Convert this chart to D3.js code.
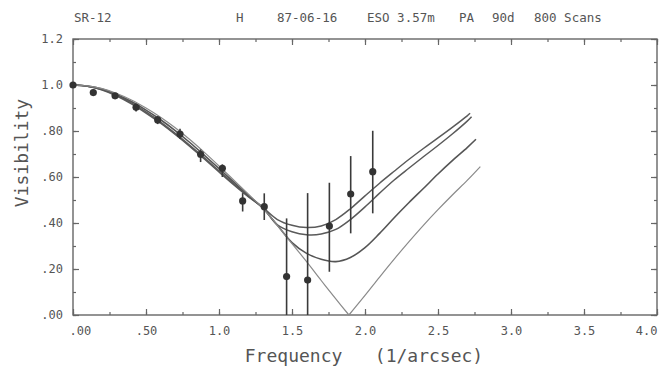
<!DOCTYPE html>
<html lang="en">
<head>
<meta charset="UTF-8">
<title>SR-12 visibility</title>
<script src="https://d3js.org/d3.v7.min.js"></script>
<style>
  body { margin: 0; background: #fff; }
  svg text { font-family: "DejaVu Sans Mono", "Liberation Mono", monospace; fill: #555; }
</style>
</head>
<body>
<div id="chart"></div>
<script>
// header pieces of the plot
const headerItems = ["SR-12", "H", "87-06-16", "ESO 3.57m", "PA", "90d", "800 Scans"];
const headerX = [74, 236, 277, 367, 459, 492, 534];

// tick labels
const xTicks = [0, 0.5, 1.0, 1.5, 2.0, 2.5, 3.0, 3.5, 4.0];
const xTickLabels = [".00", ".50", "1.0", "1.5", "2.0", "2.5", "3.0", "3.5", "4.0"];
const yTicks = [0, 0.2, 0.4, 0.6, 0.8, 1.0, 1.2];
const yTickLabels = [".00", ".20", ".40", ".60", ".80", "1.0", "1.2"];

// measured visibilities
const obsFreq = [0.0, 0.139, 0.288, 0.432, 0.58, 0.733, 0.874, 1.023, 1.162, 1.31, 1.463, 1.607, 1.756, 1.902, 2.053];
const obsVis  = [1.0, 0.967, 0.953, 0.903, 0.848, 0.787, 0.699, 0.638, 0.496, 0.471, 0.167, 0.152, 0.387, 0.526, 0.623];
const obsLow  = [0.99, 0.953, 0.944, 0.885, 0.83, 0.765, 0.665, 0.60, 0.45, 0.413, 0.0, 0.0, 0.188, 0.355, 0.442];
const obsHigh = [1.01, 0.981, 0.962, 0.92, 0.865, 0.81, 0.72, 0.655, 0.53, 0.529, 0.42, 0.53, 0.575, 0.691, 0.801];

// model curves [frequency, visibility]
const modelA = [[0,1.0],[0.1,0.994],[0.2,0.978],[0.3,0.952],[0.4,0.918],[0.5,0.878],[0.6,0.834],[0.7,0.785],[0.8,0.733],[0.9,0.678],[1.0,0.622],[1.1,0.567],[1.2,0.515],[1.3,0.468],[1.4,0.415],[1.5,0.39],[1.6,0.38],[1.7,0.387],[1.8,0.415],[1.9,0.462],[2.0,0.518],[2.1,0.573],[2.2,0.625],[2.3,0.676],[2.4,0.724],[2.5,0.77],[2.6,0.817],[2.7,0.866],[2.72,0.877]];
const modelB = [[0,1.0],[0.1,0.995],[0.2,0.98],[0.3,0.955],[0.4,0.922],[0.5,0.883],[0.6,0.839],[0.7,0.79],[0.8,0.738],[0.9,0.683],[1.0,0.627],[1.1,0.571],[1.2,0.517],[1.3,0.467],[1.4,0.392],[1.5,0.362],[1.6,0.349],[1.7,0.352],[1.8,0.372],[1.9,0.415],[2.0,0.47],[2.1,0.53],[2.2,0.587],[2.3,0.638],[2.4,0.688],[2.5,0.737],[2.6,0.788],[2.7,0.843],[2.73,0.862]];
const modelC = [[0,1.0],[0.1,0.995],[0.2,0.982],[0.3,0.959],[0.4,0.928],[0.5,0.891],[0.6,0.849],[0.7,0.802],[0.8,0.75],[0.9,0.694],[1.0,0.637],[1.1,0.579],[1.2,0.521],[1.3,0.465],[1.4,0.39],[1.5,0.315],[1.6,0.268],[1.7,0.242],[1.8,0.232],[1.9,0.25],[2.0,0.293],[2.1,0.355],[2.2,0.423],[2.3,0.488],[2.4,0.55],[2.5,0.613],[2.6,0.672],[2.7,0.728],[2.76,0.764]];
const modelD = [[0,1.0],[0.1,0.996],[0.2,0.984],[0.3,0.963],[0.4,0.935],[0.5,0.9],[0.6,0.86],[0.7,0.814],[0.8,0.763],[0.9,0.707],[1.0,0.648],[1.1,0.587],[1.2,0.526],[1.3,0.465],[1.4,0.39],[1.5,0.31],[1.6,0.232],[1.7,0.15],[1.8,0.07],[1.89,0.0],[2.0,0.085],[2.1,0.165],[2.2,0.243],[2.3,0.318],[2.4,0.39],[2.5,0.458],[2.6,0.523],[2.7,0.585],[2.79,0.645]];

const W = 671, H = 373;
const margin = { top: 39, right: 14, bottom: 58, left: 73 };
const width = W - margin.left - margin.right;
const height = H - margin.top - margin.bottom;

const svg = d3.select("#chart").append("svg")
    .attr("width", W)
    .attr("height", H);

// header
svg.selectAll(".hdr")
    .data(headerItems)
    .enter().append("text")
    .attr("class", "hdr")
    .attr("x", (d, i) => headerX[i])
    .attr("y", 22)
    .style("white-space", "pre")
    .style("font-size", "12.5px")
    .text(d => d);

const g = svg.append("g")
    .attr("transform", `translate(${margin.left},${margin.top})`);

const x = d3.scaleLinear().domain([0, 4]).range([0, width]);
const y = d3.scaleLinear().domain([0, 1.2]).range([height, 0]);

const xMinor = d3.range(0, 4.001, 0.25);
const yMinor = d3.range(0, 1.201, 0.1);

function styleAxis(sel) {
    sel.select(".domain").remove();
    sel.selectAll("line").attr("stroke", "#666").attr("stroke-width", 1.2);
    sel.selectAll("text").attr("fill", "#555").style("font-size", "12px")
        .style("font-family", "DejaVu Sans Mono, monospace");
}

// minor ticks on all four sides
g.append("g").attr("transform", `translate(0,${height})`)
    .call(d3.axisBottom(x).tickValues(xMinor).tickSize(-3).tickFormat(""))
    .call(styleAxis);
g.append("g")
    .call(d3.axisTop(x).tickValues(xMinor).tickSize(-3).tickFormat(""))
    .call(styleAxis);
g.append("g")
    .call(d3.axisLeft(y).tickValues(yMinor).tickSize(-3).tickFormat(""))
    .call(styleAxis);
g.append("g").attr("transform", `translate(${width},0)`)
    .call(d3.axisRight(y).tickValues(yMinor).tickSize(-3).tickFormat(""))
    .call(styleAxis);

// major ticks + labels
const gx = g.append("g").attr("transform", `translate(0,${height})`)
    .call(d3.axisBottom(x).tickValues(xTicks).tickSize(-6).tickPadding(11)
        .tickFormat((d, i) => xTickLabels[i]))
    .call(styleAxis);
gx.selectAll("text")
    .attr("text-anchor", (d, i) => i === 0 ? "start" : (i === xTicks.length - 1 ? "end" : "middle"))
    .attr("dx", (d, i) => i === 0 ? -4 : 0);

g.append("g")
    .call(d3.axisTop(x).tickValues(xTicks).tickSize(-6).tickFormat(""))
    .call(styleAxis);
g.append("g")
    .call(d3.axisLeft(y).tickValues(yTicks).tickSize(-6).tickPadding(10)
        .tickFormat((d, i) => yTickLabels[i]))
    .call(styleAxis);
g.append("g").attr("transform", `translate(${width},0)`)
    .call(d3.axisRight(y).tickValues(yTicks).tickSize(-6).tickFormat(""))
    .call(styleAxis);

// frame
g.append("rect")
    .attr("width", width)
    .attr("height", height)
    .attr("fill", "none")
    .attr("stroke", "#666")
    .attr("stroke-width", 1.4);

// axis titles
svg.append("text")
    .attr("x", 364)
    .attr("y", 362)
    .attr("text-anchor", "middle")
    .style("white-space", "pre")
    .style("font-size", "18px")
    .text("Frequency   (1/arcsec)");

svg.append("text")
    .attr("transform", "translate(28,153) rotate(-90)")
    .attr("text-anchor", "middle")
    .style("font-size", "18px")
    .text("Visibility");

// model curves
const line = d3.line()
    .x(d => x(d[0]))
    .y(d => y(d[1]))
    .curve(d3.curveCatmullRom.alpha(0.5));

// split a curve where it touches zero so the cusp stays sharp
function pieces(data) {
    const k = data.findIndex(d => d[1] === 0);
    if (k < 0) return [data];
    return [data.slice(0, k + 1), data.slice(k)];
}

const models = [
    { data: modelA, color: "#5a5a5a", w: 1.5 },
    { data: modelB, color: "#5a5a5a", w: 1.5 },
    { data: modelC, color: "#555", w: 1.6 },
    { data: modelD, color: "#8a8a8a", w: 1.2 }
];

models.forEach(m => {
    pieces(m.data).forEach(p => {
        g.append("path")
            .datum(p)
            .attr("fill", "none")
            .attr("stroke", m.color)
            .attr("stroke-width", m.w)
            .attr("d", line);
    });
});

// data points with error bars
const obs = obsFreq.map((f, i) => ({ f, v: obsVis[i], lo: obsLow[i], hi: obsHigh[i] }));

g.selectAll(".err")
    .data(obs)
    .enter().append("line")
    .attr("class", "err")
    .attr("x1", d => x(d.f)).attr("x2", d => x(d.f))
    .attr("y1", d => y(d.lo)).attr("y2", d => y(d.hi))
    .attr("stroke", "#3a3a3a")
    .attr("stroke-width", 1.6);

g.selectAll(".pt")
    .data(obs)
    .enter().append("circle")
    .attr("class", "pt")
    .attr("cx", d => x(d.f))
    .attr("cy", d => y(d.v))
    .attr("r", 3.6)
    .attr("fill", "#333");
</script>
</body>
</html>
